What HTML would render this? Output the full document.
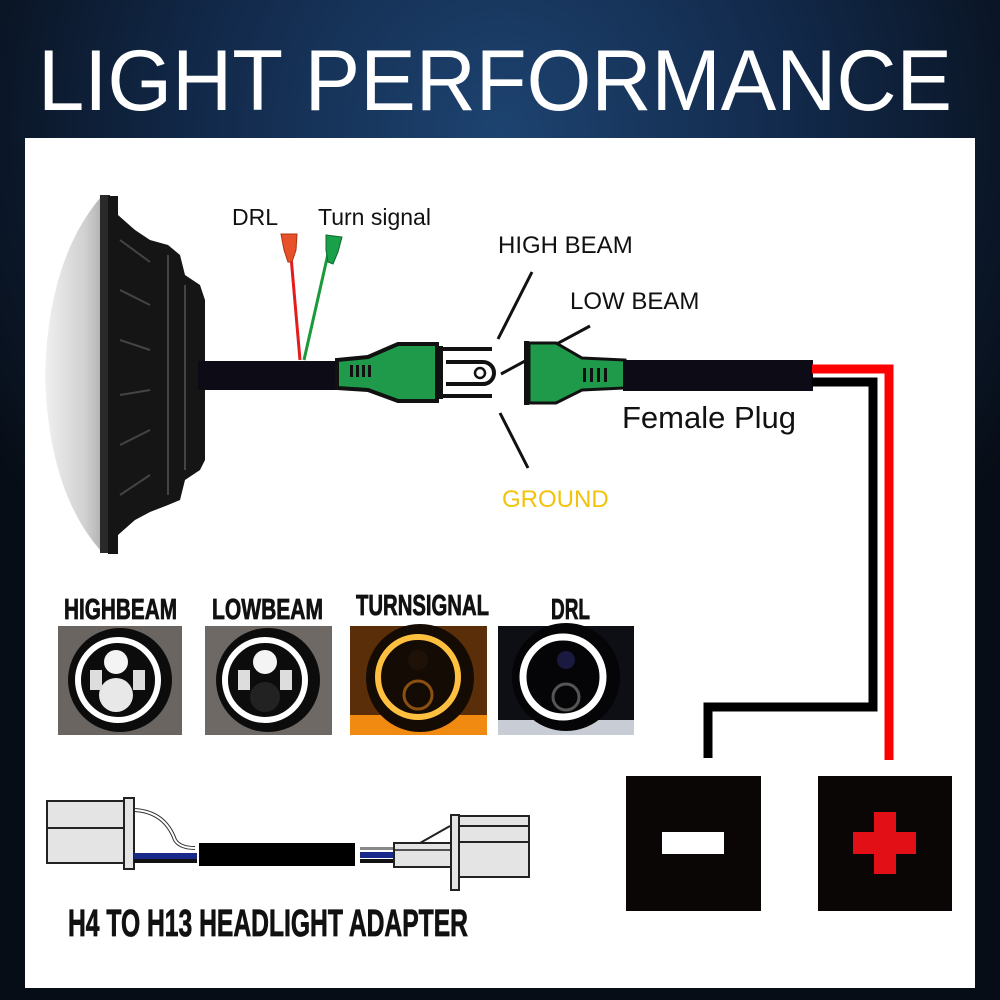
<!DOCTYPE html>
<html><head><meta charset="utf-8"><style>
html,body{margin:0;padding:0;width:1000px;height:1000px;overflow:hidden;background:#0b1626}
svg{display:block}
.c{font-family:"Liberation Sans Narrow","Liberation Sans",sans-serif;font-weight:bold;stroke:#111;stroke-width:0.8}
</style></head><body>
<svg width="1000" height="1000" viewBox="0 0 1000 1000" xmlns="http://www.w3.org/2000/svg">
<defs>
<radialGradient id="bg" cx="0.5" cy="0.13" r="0.6">
<stop offset="0" stop-color="#1d4370"/><stop offset="0.5" stop-color="#12294a"/><stop offset="1" stop-color="#070d16"/>
</radialGradient>
<linearGradient id="lens" x1="0" x2="1"><stop offset="0" stop-color="#f0f0f0"/><stop offset="0.6" stop-color="#d0d0d0"/><stop offset="1" stop-color="#a0a0a0"/></linearGradient>
</defs>
<rect width="1000" height="1000" fill="url(#bg)"/>
<rect x="25" y="138" width="950" height="850" fill="#fff"/>
<text x="38" y="110" fill="#fff" font-family="Liberation Sans,sans-serif" font-size="86" textLength="914" lengthAdjust="spacingAndGlyphs">LIGHT PERFORMANCE</text>

<!-- headlight side view -->
<path d="M100 198 Q48 260 45 375 Q48 490 100 550 L112 550 L112 198Z" fill="url(#lens)"/>
<rect x="100" y="195" width="10" height="358" fill="#2a2a2a"/>
<path d="M108 196 L118 196 L118 215 L135 230 L150 240 L168 245 L180 255 L185 275 L200 285 L205 300 L205 460 L200 470 L185 480 L180 500 L168 505 L150 512 L135 520 L118 535 L118 554 L108 554Z" fill="#151515"/>
<g stroke="#444" stroke-width="2">
<line x1="120" y1="240" x2="150" y2="262"/><line x1="120" y1="290" x2="150" y2="305"/><line x1="120" y1="340" x2="150" y2="350"/><line x1="120" y1="395" x2="150" y2="390"/><line x1="120" y1="445" x2="150" y2="430"/><line x1="120" y1="495" x2="150" y2="475"/>
<line x1="168" y1="255" x2="168" y2="495"/><line x1="185" y1="285" x2="185" y2="470"/>
</g>
<!-- cable -->
<rect x="198" y="361" width="150" height="29" fill="#0d0b16"/>
<line x1="300" y1="360" x2="290" y2="245" stroke="#e31c1c" stroke-width="3"/>
<line x1="304" y1="360" x2="330" y2="245" stroke="#1a9a3a" stroke-width="3"/>
<path d="M281 234 L297 234 L296 250 L292 262 L288 262 L284 250Z" fill="#e8502a" stroke="#b03010"/>
<path d="M326 235 L342 237 L338 252 L333 264 L328 262 L326 250Z" fill="#1aa04a" stroke="#0d6a2a"/>
<text x="232" y="225" font-family="Liberation Sans,sans-serif" font-size="23" fill="#111">DRL</text>
<text x="318" y="225" font-family="Liberation Sans,sans-serif" font-size="23" fill="#111">Turn signal</text>
<!-- male plug -->
<path d="M337 360 L368 357 L398 344 L437 344 L437 401 L398 401 L368 390 L337 388Z" fill="#1f9a4a" stroke="#111" stroke-width="4"/>
<g fill="#111"><rect x="350" y="365" width="3" height="12"/><rect x="356" y="365" width="3" height="12"/><rect x="362" y="365" width="3" height="12"/><rect x="368" y="365" width="3" height="12"/></g>
<rect x="437" y="346" width="6" height="53" fill="#111"/>
<path d="M443 349 L492 349 M443 396 L492 396" stroke="#111" stroke-width="4"/>
<path d="M446 362 L483 362 A11 11 0 0 1 483 384 L446 384" fill="#fff" stroke="#111" stroke-width="4"/>
<circle cx="480" cy="373" r="5" fill="none" stroke="#111" stroke-width="2.5"/>
<!-- callout lines -->
<g stroke="#111" stroke-width="3">
<line x1="498" y1="339" x2="532" y2="272"/>
<line x1="501" y1="374" x2="590" y2="326"/>
<line x1="500" y1="413" x2="528" y2="468"/>
</g>
<text x="498" y="253" font-family="Liberation Sans,sans-serif" font-size="24" fill="#111">HIGH BEAM</text>
<text x="570" y="309" font-family="Liberation Sans,sans-serif" font-size="24" fill="#111">LOW BEAM</text>
<text x="502" y="507" font-family="Liberation Sans,sans-serif" font-size="24" fill="#f2c20c">GROUND</text>
<!-- female plug -->
<rect x="524" y="341" width="5" height="64" fill="#111"/>
<path d="M529 343 L556 343 L582 358 L625 360 L625 388 L582 390 L556 403 L529 403Z" fill="#1f9a4a" stroke="#111" stroke-width="3"/>
<g fill="#111"><rect x="583" y="368" width="3" height="14"/><rect x="590" y="368" width="3" height="14"/><rect x="597" y="368" width="3" height="14"/><rect x="604" y="368" width="3" height="14"/></g>
<rect x="623" y="360" width="190" height="31" fill="#0d0b16"/>
<text x="622" y="428" font-family="Liberation Sans,sans-serif" font-size="31" fill="#111">Female Plug</text>
<!-- wires -->
<path d="M812 369 L889 369 L889 760" fill="none" stroke="#ff0000" stroke-width="9"/>
<path d="M812 382 L873 382 L873 707 L708 707 L708 758" fill="none" stroke="#000" stroke-width="9"/>
<rect x="626" y="776" width="135" height="135" fill="#0a0606"/>
<rect x="662" y="832" width="62" height="22" fill="#fff"/>
<rect x="818" y="776" width="134" height="135" fill="#0a0606"/>
<rect x="874" y="812" width="22" height="62" fill="#e30f17"/>
<rect x="853" y="832" width="63" height="22" fill="#e30f17"/>

<!-- beam labels -->
<g class="c" font-size="29" fill="#111">
<text x="64" y="619" textLength="113" lengthAdjust="spacingAndGlyphs">HIGHBEAM</text>
<text x="212" y="619" textLength="111" lengthAdjust="spacingAndGlyphs">LOWBEAM</text>
<text x="356" y="615" textLength="133" lengthAdjust="spacingAndGlyphs">TURNSIGNAL</text>
<text x="551" y="619" textLength="39" lengthAdjust="spacingAndGlyphs">DRL</text>
</g>
<!-- photos -->
<rect x="58" y="626" width="124" height="109" fill="#6a6560"/>
<circle cx="120" cy="680" r="52" fill="#0c0c0c"/><circle cx="118" cy="680" r="40" fill="none" stroke="#fff" stroke-width="6"/>
<circle cx="116" cy="662" r="12" fill="#f4f4f4"/><circle cx="116" cy="695" r="17" fill="#e8e8e8"/><rect x="90" y="670" width="12" height="20" fill="#ddd"/><rect x="133" y="670" width="12" height="20" fill="#ddd"/>
<rect x="205" y="626" width="127" height="109" fill="#6e6964"/>
<circle cx="268" cy="680" r="52" fill="#0c0c0c"/><circle cx="265" cy="680" r="40" fill="none" stroke="#fff" stroke-width="6"/>
<circle cx="265" cy="662" r="12" fill="#f4f4f4"/><circle cx="265" cy="697" r="15" fill="#222"/><rect x="238" y="670" width="12" height="20" fill="#ddd"/><rect x="280" y="670" width="12" height="20" fill="#ddd"/>
<rect x="350" y="626" width="137" height="109" fill="#5a2e08"/>
<rect x="350" y="715" width="137" height="20" fill="#f08a10"/>
<circle cx="420" cy="678" r="54" fill="#140b05"/><circle cx="418" cy="677" r="40" fill="none" stroke="#ffc040" stroke-width="6"/>
<circle cx="418" cy="695" r="14" fill="none" stroke="#8a5010" stroke-width="3"/><circle cx="418" cy="660" r="10" fill="#1e1208"/>
<rect x="498" y="626" width="136" height="109" fill="#0e0f14"/>
<rect x="498" y="720" width="136" height="15" fill="#c8ccd4"/>
<circle cx="566" cy="677" r="54" fill="#050507"/><circle cx="563" cy="677" r="40" fill="none" stroke="#fff" stroke-width="7"/>
<circle cx="566" cy="697" r="13" fill="none" stroke="#555" stroke-width="3"/><circle cx="566" cy="660" r="9" fill="#1a1a40"/>

<!-- adapter -->
<rect x="47" y="801" width="79" height="62" fill="#e4e4e4" stroke="#222" stroke-width="2"/>
<line x1="47" y1="828" x2="126" y2="828" stroke="#222" stroke-width="2"/>
<rect x="124" y="798" width="10" height="71" fill="#e4e4e4" stroke="#222" stroke-width="2"/>
<path d="M135 810 Q165 812 175 840 Q180 848 195 848" fill="none" stroke="#333" stroke-width="4"/>
<path d="M135 810 Q165 812 175 840 Q180 848 195 848" fill="none" stroke="#fff" stroke-width="2"/>
<rect x="134" y="853" width="63" height="6" fill="#1a2a8a"/><rect x="134" y="859" width="63" height="4" fill="#111"/>
<rect x="199" y="843" width="156" height="23" fill="#000"/>
<rect x="360" y="847" width="35" height="3" fill="#888"/><rect x="360" y="852" width="35" height="6" fill="#1a2a8a"/><rect x="360" y="859" width="35" height="4" fill="#111"/>
<rect x="394" y="843" width="58" height="24" fill="#e4e4e4" stroke="#222" stroke-width="2"/>
<line x1="394" y1="850" x2="452" y2="850" stroke="#222" stroke-width="1.5"/>
<path d="M420 843 L450 826" stroke="#222" stroke-width="2"/>
<rect x="451" y="816" width="78" height="61" fill="#e4e4e4" stroke="#222" stroke-width="2"/>
<line x1="451" y1="826" x2="529" y2="826" stroke="#222" stroke-width="2"/><line x1="451" y1="842" x2="529" y2="842" stroke="#222" stroke-width="2"/>
<rect x="451" y="815" width="8" height="75" fill="#e4e4e4" stroke="#222" stroke-width="2"/>
<text class="c" x="68" y="936" font-size="38" fill="#111" textLength="400" lengthAdjust="spacingAndGlyphs">H4 TO H13 HEADLIGHT ADAPTER</text>
</svg>
</body></html>
